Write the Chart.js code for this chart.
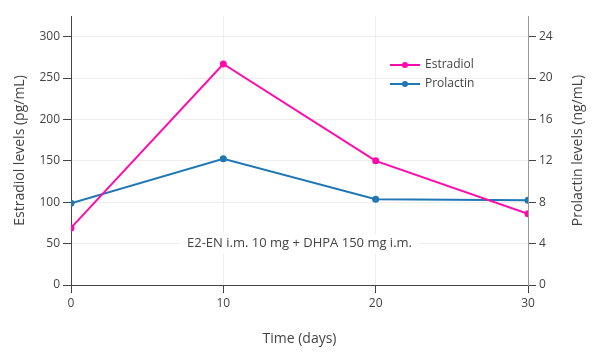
<!DOCTYPE html>
<html><head><meta charset="utf-8">
<script src="https://cdn.jsdelivr.net/npm/chart.js@4.4.1/dist/chart.umd.min.js"></script>
<style>html,body{margin:0;padding:0;background:#fff}#wrap{width:600px;height:360px}</style>
</head><body><div id="wrap"><canvas id="c" width="600" height="360"></canvas></div>
<script>
const days = [0, 10, 20, 30];
const estradiol = [69, 267, 150, 86];
const prolactin = [7.9, 12.2, 8.3, 8.2];
const xTicks = [0, 10, 20, 30];
const leftTicks = [0, 50, 100, 150, 200, 250, 300];
const rightTicks = [0, 4, 8, 12, 16, 20, 24];
const annotationText = 'E2-EN i.m. 10 mg + DHPA 150 mg i.m.';
const annotationPos = {x: 15, y: 50};
const rightTitle = 'Prolactin levels (ng/mL)';

const FONT = "'Open Sans', 'Noto Sans', sans-serif";
const TXT = '#444';
const PINK = '#ff0aab';
const BLUE = '#1f77b4';

const legendPlugin = {
  id: 'customLegend',
  afterDatasetsDraw(chart) {
    const ctx = chart.ctx;
    const items = chart.data.datasets;
    ctx.save();
    items.forEach((ds, i) => {
      const y = 65 + i * 19;
      ctx.strokeStyle = ds.borderColor;
      ctx.lineWidth = 2;
      ctx.beginPath(); ctx.moveTo(390, y); ctx.lineTo(420, y); ctx.stroke();
      ctx.fillStyle = ds.borderColor;
      ctx.beginPath(); ctx.arc(405, y, 3, 0, Math.PI * 2); ctx.fill();
      ctx.fillStyle = TXT;
      ctx.font = '12px ' + FONT;
      ctx.textBaseline = 'middle';
      ctx.textAlign = 'left';
      ctx.fillText(ds.label, 425, y);
    });
    // right axis title, reading bottom-to-top
    const a = chart.chartArea;
    ctx.translate(578, (a.top + a.bottom) / 2);
    ctx.rotate(-Math.PI / 2);
    ctx.font = '14px ' + FONT;
    ctx.textAlign = 'center';
    ctx.textBaseline = 'middle';
    ctx.fillStyle = TXT;
    ctx.fillText(rightTitle, 0, 0);
    ctx.restore();
  }
};

const annotPlugin = {
  id: 'annot',
  beforeDatasetsDraw(chart) {
    const ctx = chart.ctx;
    const x = chart.scales.x.getPixelForValue(annotationPos.x);
    const y = chart.scales.yL.getPixelForValue(annotationPos.y);
    ctx.save();
    ctx.font = '13px ' + FONT;
    const w = ctx.measureText(annotationText).width;
    ctx.fillStyle = '#fff';
    ctx.fillRect(x - w / 2 - 6, y - 10, w + 12, 20);
    ctx.fillStyle = TXT;
    ctx.textAlign = 'center';
    ctx.textBaseline = 'middle';
    ctx.fillText(annotationText, x, y);
    ctx.restore();
  }
};

function fixTicks(arr) {
  return (scale) => { scale.ticks = arr.map(v => ({value: v})); };
}

new Chart(document.getElementById('c'), {
  type: 'line',
  data: {
    datasets: [
      {label: 'Estradiol', data: days.map((d, i) => ({x: d, y: estradiol[i]})), yAxisID: 'yL',
       borderColor: PINK, backgroundColor: PINK, borderWidth: 2, pointRadius: 3.5, pointBorderWidth: 0, pointHoverRadius: 3.5, tension: 0},
      {label: 'Prolactin', data: days.map((d, i) => ({x: d, y: prolactin[i]})), yAxisID: 'yR',
       borderColor: BLUE, backgroundColor: BLUE, borderWidth: 2, pointRadius: 3.5, pointBorderWidth: 0, pointHoverRadius: 3.5, tension: 0}
    ]
  },
  options: {
    responsive: false,
    animation: false,
    devicePixelRatio: 1,
    layout: {padding: {top: 16}},
    plugins: {legend: {display: false}, tooltip: {enabled: false}},
    scales: {
      x: {
        type: 'linear', min: 0, max: 30,
        afterBuildTicks: fixTicks(xTicks),
        afterFit: (s) => { s.height = 75; },
        border: {color: TXT, width: 1},
        grid: {color: (c) => (c.tick && (c.tick.value === 0 || c.tick.value === 30)) ? 'rgba(0,0,0,0)' : '#eee',
               tickColor: TXT, tickLength: 8, drawTicks: true},
        ticks: {color: TXT, font: {family: FONT, size: 12}, padding: 3, maxRotation: 0},
        title: {display: true, text: 'Time (days)', color: TXT, font: {family: FONT, size: 14}, padding: {top: 4, bottom: 13}}
      },
      yL: {
        type: 'linear', position: 'left', min: 0, max: 325,
        afterBuildTicks: fixTicks(leftTicks),
        afterFit: (s) => { s.width = 71; },
        border: {color: TXT, width: 1},
        grid: {color: (c) => (c.tick && c.tick.value === 0) ? 'rgba(0,0,0,0)' : '#eee', tickColor: TXT, tickLength: 8},
        ticks: {color: TXT, font: {family: FONT, size: 12}, padding: 3},
        title: {display: true, text: 'Estradiol levels (pg/mL)', color: TXT, font: {family: FONT, size: 14}, padding: {top: 12, bottom: 4}}
      },
      yR: {
        type: 'linear', position: 'right', min: 0, max: 26,
        afterBuildTicks: fixTicks(rightTicks),
        afterFit: (s) => { s.width = 72; },
        border: {color: '#999', width: 1},
        grid: {drawOnChartArea: false, color: TXT, tickLength: 8},
        ticks: {color: TXT, font: {family: FONT, size: 12}, padding: 3},
        title: {display: false}
      }
    }
  },
  plugins: [annotPlugin, legendPlugin]
});
</script></body></html>
